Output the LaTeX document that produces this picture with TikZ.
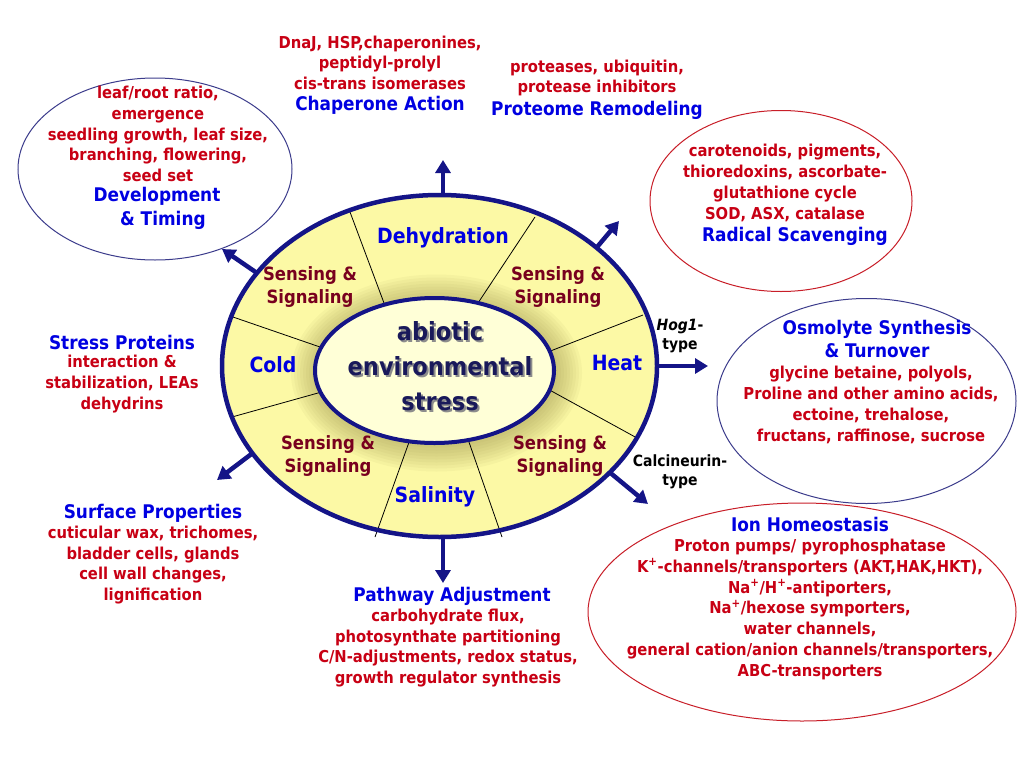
\documentclass[tikz,border=0pt]{standalone}
\usepackage{fontspec}
\setmainfont{DejaVu Sans Condensed}
\usetikzlibrary{shapes.geometric,arrows.meta,calc}
\definecolor{tred}{RGB}{200,0,20}
\definecolor{tblue}{RGB}{0,0,225}
\definecolor{smaroon}{RGB}{120,0,30}
\definecolor{navy}{RGB}{20,20,135}
\definecolor{cnavy}{RGB}{25,25,90}
\definecolor{ylight}{RGB}{252,249,165}
\definecolor{halo}{RGB}{140,130,60}
\definecolor{cream}{RGB}{255,255,215}
\definecolor{ellblue}{RGB}{60,60,140}
\definecolor{ellred}{RGB}{200,30,40}
\begin{document}
\begin{tikzpicture}[x=1pt,y=-1pt,
  redtxt/.style={text=tred, font=\bfseries\fontsize{16.4}{20.8}\selectfont, align=center, inner sep=0pt},
  bluetxt/.style={text=tblue, font=\bfseries\fontsize{18.8}{23.5}\selectfont, align=center, inner sep=0pt},
  ringlbl/.style={text=tblue, font=\bfseries\fontsize{21}{24}\selectfont, align=center, inner sep=0pt},
  senslbl/.style={text=smaroon, font=\bfseries\fontsize{18.3}{23}\selectfont, align=center, inner sep=0pt},
  blktxt/.style={text=black, font=\bfseries\fontsize{15.5}{19}\selectfont, align=center, inner sep=0pt},
  coretxt/.style={font=\bfseries\fontsize{25}{35}\selectfont, align=center, inner sep=0pt},
  arr/.style={draw=navy, line width=4.5pt, -{Triangle[length=13pt,width=15pt]}},
  divider/.style={draw=black, line width=0.8pt},
  satell/.style={ellipse, draw, line width=1pt, inner sep=0pt, fill=none},
]
\useasboundingbox (0,0) rectangle (1024,768);
\fill[white] (0,0) rectangle (1024,768);

% ring
\node[ellipse, minimum width=435pt, minimum height=342pt, inner sep=0pt, outer sep=0pt, fill=ylight] (ring) at (439.5,366) {};
\begin{scope}
  \clip (ring.center) ellipse [x radius=217pt, y radius=170pt];
  \foreach \k in {26,23,...,2}
    \fill[halo, opacity=0.055] (436.5,373) ellipse [x radius={119.5pt+\k pt}, y radius={72.5pt+\k pt}];
\end{scope}
% dividers
\draw[divider] (350,212) -- ($(350,212)!1.06!(384,303)$);
\draw[divider] (535,217) -- ($(535,217)!1.06!(480,300)$);
\draw[divider] (233,317) -- ($(233,317)!1.06!(320,347)$);
\draw[divider] (232,417) -- ($(232,417)!1.06!(318,393)$);
\draw[divider] (643,315) -- ($(643,315)!1.06!(553,350)$);
\draw[divider] (637,438) -- ($(637,438)!1.06!(555,393)$);
\draw[divider] (375,537) -- ($(375,537)!1.06!(408,445)$);
\draw[divider] (502,537) -- ($(502,537)!1.06!(470,445)$);
\draw[navy, line width=4.5pt] (ring.center) ellipse [x radius=217.5pt, y radius=171pt];

% core
\node[ellipse, minimum width=239pt, minimum height=145pt, inner sep=0pt, fill=cream, draw=navy, line width=4pt] (core) at (434.5,370.5) {};
\node[coretxt, text=black!45] (coreshadow) at (442,368) {abiotic\\environmental\\stress};
\node[coretxt, text=cnavy] (coretext) at (440,366) {abiotic\\environmental\\stress};

% ring labels
\node[ringlbl] (dehyd) at (443,238) {Dehydration};
\node[ringlbl] (cold) at (273,365) {Cold};
\node[ringlbl] (heat) at (617,363) {Heat};
\node[ringlbl] (salin) at (435,497) {Salinity};
\node[senslbl] (sUL) at (310,287) {Sensing \&\\Signaling};
\node[senslbl] (sUR) at (558,287) {Sensing \&\\Signaling};
\node[senslbl] (sLL) at (328,456) {Sensing \&\\Signaling};
\node[senslbl] (sLR) at (560,456) {Sensing \&\\Signaling};

% arrow end points
\coordinate (tTop) at (443,160);
\coordinate (tUR) at (619,221);
\coordinate (tUL) at (222,249);
\coordinate (tR) at (708,366);
\coordinate (tLR) at (648,504);
\coordinate (tB) at (443,583);
\coordinate (tLL) at (217,480);
\draw[arr] (ring.north -| tTop) -- (tTop);
\draw[arr] (ring.37) -- (tUR);
\draw[arr] (ring.153) -- (tUL);
\draw[arr] (ring.east) -- (tR);
\draw[arr] (ring.-32) -- (tLR);
\draw[arr] (ring.south -| tB) -- (tB);
\draw[arr] (ring.205) -- (tLL);

% satellites
\node[satell, draw=ellblue, minimum width=274pt, minimum height=182pt] (devell) at (155,169) {};
\node[satell, draw=ellred, minimum width=262pt, minimum height=181pt] (radell) at (781,201) {};
\node[satell, draw=ellblue, minimum width=299pt, minimum height=205pt] (osmell) at (866.5,401) {};
\node[satell, draw=ellred, minimum width=428pt, minimum height=218pt] (ionell) at (802,612) {};

% texts
\node[redtxt] (chapR) at (380,62.7) {DnaJ, HSP,chaperonines,\\peptidyl-prolyl\\cis-trans isomerases};
\node[bluetxt] (chapB) at (380,105) {Chaperone Action};
\node[redtxt] (protR) at (597,78) {proteases, ubiquitin,\\protease inhibitors};
\node[bluetxt] (protB) at (597,110) {Proteome Remodeling};
\node[redtxt] (devR) at (158,134) {leaf/root ratio,\\emergence\\seedling growth, leaf size,\\branching, flowering,\\seed set};
\node[bluetxt] (devB) at (157,208.5) {Development\\\ \ \& Timing};
\node[redtxt] (radR) at (785,183) {carotenoids, pigments,\\thioredoxins, ascorbate-\\glutathione cycle\\SOD, ASX, catalase};
\node[bluetxt] (radB) at (795,236) {Radical Scavenging};
\node[bluetxt] (stpB) at (122,342) {Stress Proteins};
\node[redtxt] (stpR) at (122,384) {interaction \&\\stabilization, LEAs\\dehydrins};
\node[bluetxt] (surfB) at (153,513) {Surface Properties};
\node[redtxt] (surfR) at (153,565) {cuticular wax, trichomes,\\bladder cells, glands\\cell wall changes,\\lignification};
\node[bluetxt] (pathB) at (452,596) {Pathway Adjustment};
\node[redtxt] (pathR) at (448,648) {carbohydrate flux,\\photosynthate partitioning\\C/N-adjustments, redox status,\\growth regulator synthesis};
\node[bluetxt] (osmB) at (877,339) {Osmolyte Synthesis\\\& Turnover};
\node[redtxt] (osmR) at (871,405) {glycine betaine, polyols,\\Proline and other amino acids,\\ectoine, trehalose,\\fructans, raffinose, sucrose};
\node[bluetxt] (ionB) at (810,524) {Ion Homeostasis};
\node[redtxt] (ionR) at (810,609.3) {Proton pumps/ pyrophosphatase\\K\textsuperscript{+}-channels/transporters (AKT,HAK,HKT),\\Na\textsuperscript{+}/H\textsuperscript{+}-antiporters,\\Na\textsuperscript{+}/hexose symporters,\\water channels,\\general cation/anion channels/transporters,\\ABC-transporters};
\node[blktxt] (hog) at (680,336) {\textit{Hog1}-\\type};
\node[blktxt] (calc) at (680,472) {Calcineurin-\\type};
\end{tikzpicture}
\end{document}
